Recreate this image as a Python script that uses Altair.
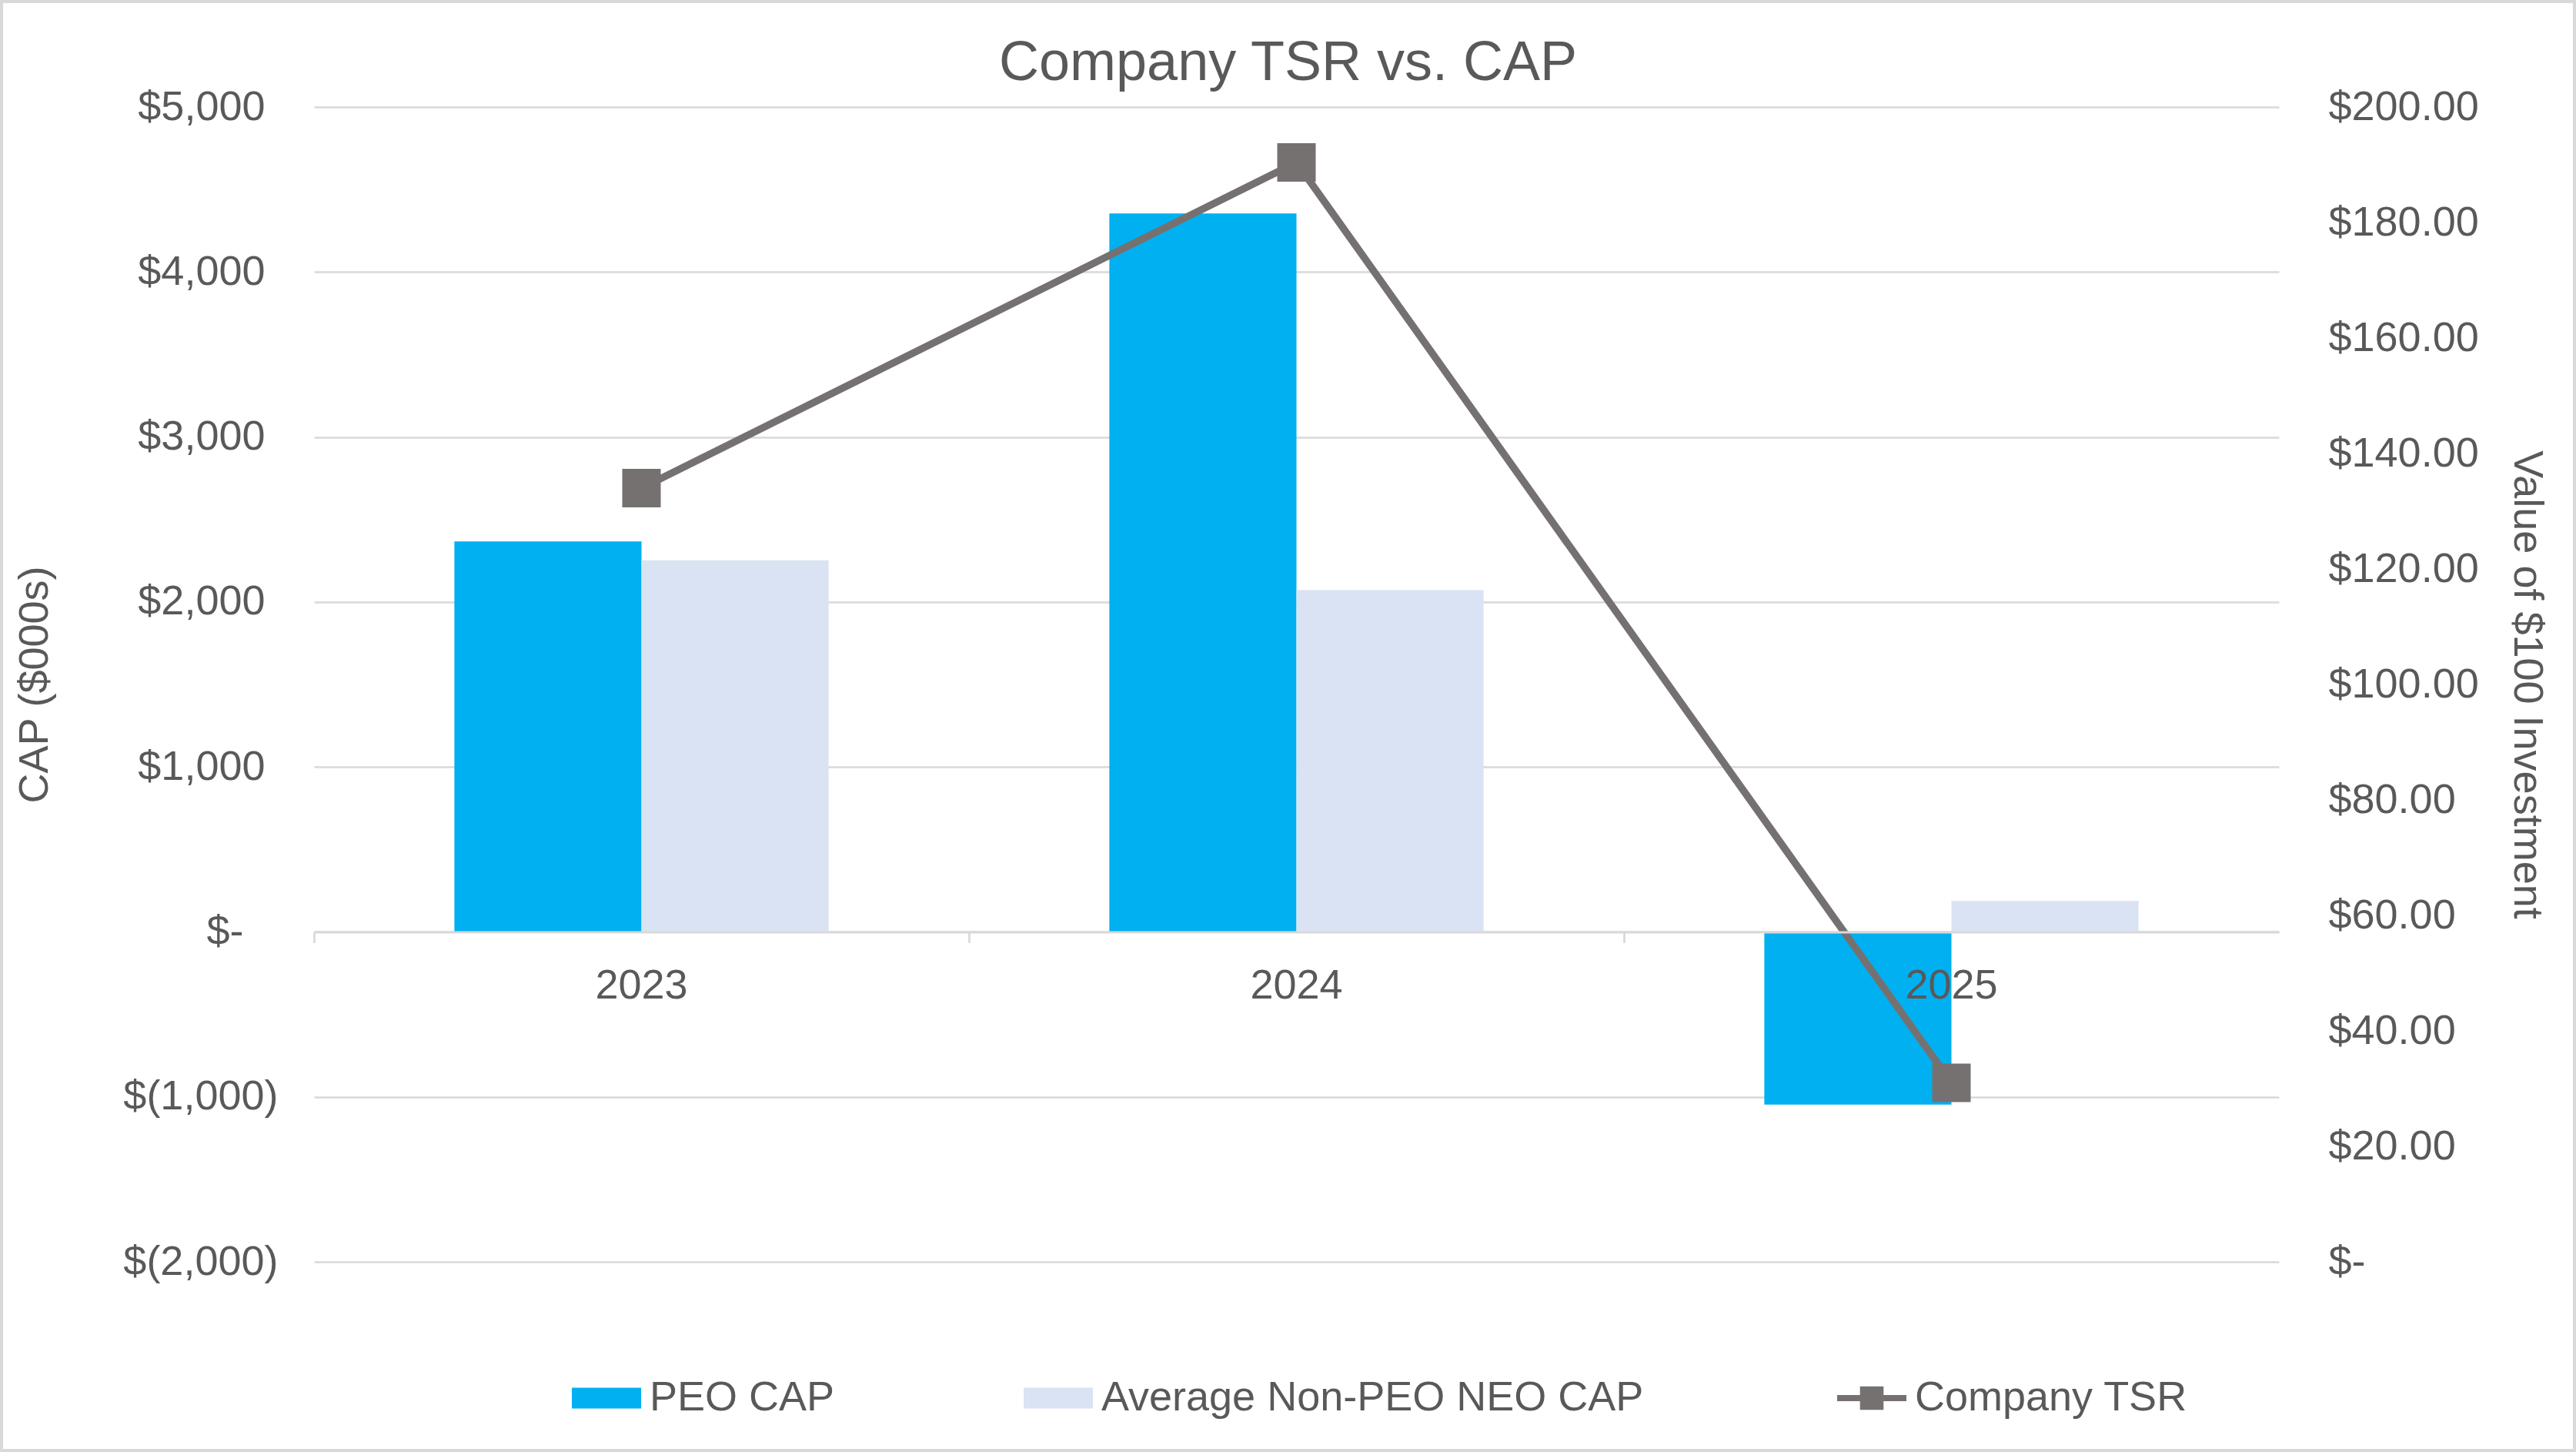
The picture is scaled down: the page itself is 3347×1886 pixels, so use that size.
import altair as alt
import pandas as pd

# ---- data ----
years = ["2023", "2024", "2025"]
peo_cap = [2367, 4355, -1047]
non_peo_cap = [2252, 2072, 188]
company_tsr = [134.0, 190.4, 31.0]

bar_series = ["PEO CAP", "Average Non-PEO NEO CAP"]
bar_colors = ["#00B0F0", "#DAE3F3"]
line_series = ["Company TSR"]
line_colors = ["#767171"]
cap_ticks = [-2000, -1000, 0, 1000, 2000, 3000, 4000, 5000]
tsr_ticks = [0, 20, 40, 60, 80, 100, 120, 140, 160, 180, 200]

bars_df = pd.DataFrame({
    "year": years + years,
    "series": [bar_series[0]] * 3 + [bar_series[1]] * 3,
    "value": peo_cap + non_peo_cap,
})
line_df = pd.DataFrame({
    "year": years,
    "series": line_series * 3,
    "tsr": company_tsr,
})

FONT = "Liberation Sans"
TXT = "#595959"
GRID = "#D9D9D9"
W, H = 2553, 1500
PAD = {"left": 408, "top": 139, "right": 386, "bottom": 247}
ZERO_OFFSET = -(H * 2000 / 7000)

x_scale = alt.Scale(paddingInner=0.4286, paddingOuter=0.2143)

rect_path = "M-1,-0.3H1V0.3H-1Z"
tsr_path = "M-1,-0.09H-0.34V-0.34H0.34V-0.09H1V0.09H0.34V0.34H-0.34V0.09H-1Z"

legend_common = dict(
    title=None, orient="none", direction="horizontal",
    labelOffset=11, symbolSize=8100,
    labelFont=FONT, labelFontSize=54, labelColor=TXT, labelLimit=2000,
    padding=0, symbolStrokeWidth=0,
)
bar_legend = alt.Legend(legendX=335, legendY=1632, columns=2, columnPadding=245,
                        symbolType=rect_path, **legend_common)
line_legend = alt.Legend(legendX=1979, legendY=1632, columns=1,
                         symbolType=tsr_path, symbolFillColor=line_colors[0],
                         **legend_common)

left_label = ("datum.value == 0 ? '$-' : (datum.value < 0 ? '$(' + format(-datum.value, ',') + ')' "
              ": '$' + format(datum.value, ','))")
left_pad = {"expr": "datum.value == 0 ? 92 : (datum.value < 0 ? 47 : 64)"}
right_label = "datum.value == 0 ? '$-' : '$' + format(datum.value, ',.2f')"

bars = alt.Chart(bars_df).mark_bar().encode(
    x=alt.X("year:N", scale=x_scale, sort=years, axis=alt.Axis(
        title=None, orient="bottom", offset=ZERO_OFFSET, labelAngle=0,
        labelFont=FONT, labelFontSize=54, labelColor=TXT, labelPadding=43,
        ticks=False, domainColor=GRID, domainWidth=3, grid=False, zindex=1)),
    xOffset=alt.XOffset("series:N", sort=bar_series,
                        scale=alt.Scale(paddingInner=0, paddingOuter=0)),
    y=alt.Y("value:Q", scale=alt.Scale(domain=[-2000, 5000], nice=False, zero=False),
            axis=alt.Axis(
                values=cap_ticks, labelExpr=left_label, orient="left",
                labelFont=FONT, labelFontSize=54, labelColor=TXT, labelPadding=left_pad,
                labelLimit=1000,
                ticks=False, domain=False, grid=True, gridColor=GRID, gridWidth=2.7,
                title="CAP ($000s)", titleFont=FONT, titleFontSize=54, titleColor=TXT,
                titleFontWeight="normal", titleAngle=270, titleBaseline="bottom",
                titleAlign="center", titleX=-336, titleY=H / 2)),
    fill=alt.Fill("series:N", sort=bar_series,
                  scale=alt.Scale(domain=bar_series, range=bar_colors), legend=bar_legend),
)

line = alt.Chart(line_df).mark_line(
    strokeWidth=9.5, color=line_colors[0],
    point=alt.OverlayMarkDef(shape="square", size=2304, filled=True,
                             color=line_colors[0], opacity=1),
).encode(
    x=alt.X("year:N", scale=x_scale, sort=years, axis=alt.Axis(
        title=None, orient="bottom", offset=ZERO_OFFSET, labels=False,
        domain=False, ticks=True, tickSize=14, tickColor=GRID, tickWidth=2.7,
        bandPosition=-0.375, grid=False, zindex=1)),
    y=alt.Y("tsr:Q", scale=alt.Scale(domain=[0, 200], nice=False),
            axis=alt.Axis(
                values=tsr_ticks, labelExpr=right_label, orient="right",
                labelFont=FONT, labelFontSize=54, labelColor=TXT, labelPadding=64,
                labelLimit=1000,
                ticks=False, domain=False, grid=False,
                title="Value of $100 Investment", titleFont=FONT, titleFontSize=54,
                titleColor=TXT, titleFontWeight="normal", titleAngle=90,
                titleBaseline="bottom", titleAlign="center", titleX=294, titleY=H / 2)),
    stroke=alt.Stroke("series:N", scale=alt.Scale(domain=line_series, range=line_colors),
                      legend=line_legend),
)

frame = alt.Chart(pd.DataFrame({"k": [0]})).mark_rect(
    fill="white", fillOpacity=0, stroke=GRID, strokeWidth=4
).encode(
    x=alt.value(-PAD["left"] + 2), x2=alt.value(W + PAD["right"] - 2),
    y=alt.value(-PAD["top"] + 2), y2=alt.value(H + PAD["bottom"] - 2),
)

chart = alt.layer(bars, line, frame).resolve_scale(
    y="independent"
).resolve_axis(
    x="independent", y="independent"
).properties(
    width=W, height=H, padding=PAD,
    autosize=alt.AutoSizeParams(type="none"),
    background="white",
    title=alt.Title("Company TSR vs. CAP", font=FONT, fontSize=72, color=TXT,
                    fontWeight="normal", anchor="middle", frame="group",
                    dx=-11, dy=184, offset=8, baseline="alphabetic"),
).configure_view(stroke=None)

chart.save("out.html", embed_options={"renderer": "svg", "actions": False})
